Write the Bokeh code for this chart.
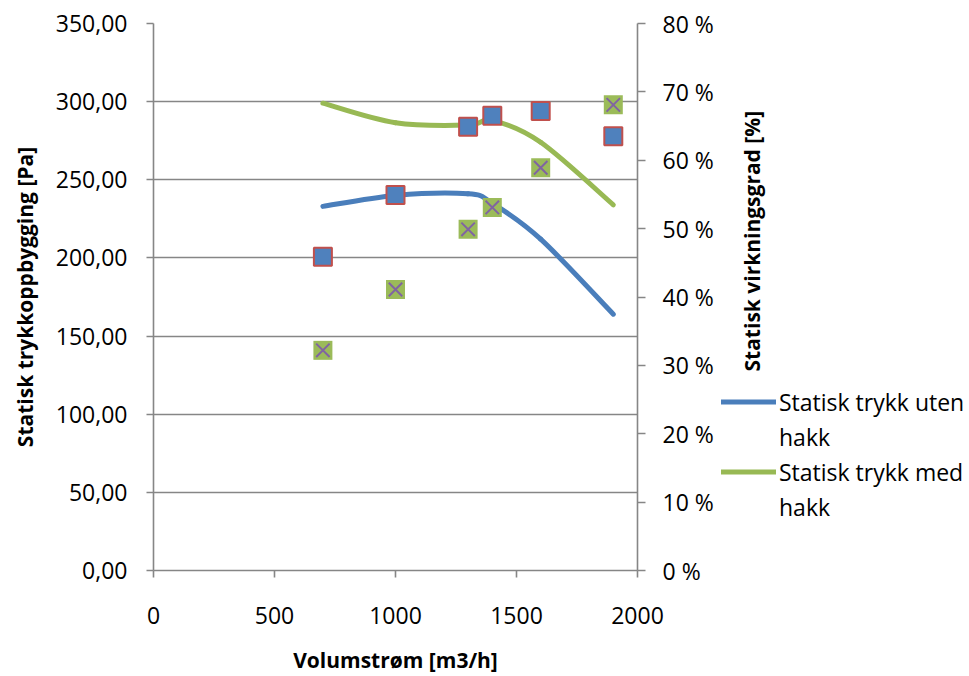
import numpy as np
from math import pi
from bokeh.plotting import figure
from bokeh.layouts import row
from bokeh.models import (Range1d, LinearAxis, CustomJSTickFormatter, FixedTicker,
                          Legend, LegendItem, Label)
from bokeh.embed import file_html
from bokeh.resources import INLINE

# ---- data ----
flow = [700, 1000, 1300, 1400, 1600, 1900]
trykk_uten = [233, 240, 241, 235, 212, 164]
trykk_med = [299, 286.5, 285, 288, 274, 234]
virk_uten = [45.9, 54.9, 64.9, 66.5, 67.2, 63.5]
virk_med = [32.2, 41.1, 49.9, 53.1, 58.9, 68.1]
x_ticks = [0, 500, 1000, 1500, 2000]
left_ticks = [0, 50, 100, 150, 200, 250, 300, 350]
right_ticks = [0, 10, 20, 30, 40, 50, 60, 70, 80]
label_uten = ["Statisk trykk uten", "hakk"]
label_med = ["Statisk trykk med", "hakk"]
right_title = "Statisk virkningsgrad [%]"

BLUE = "#4A7EBB"
GREEN = "#98B954"
FONT = "Open Sans"
AX = "#868686"


def smooth(xs, ys):
    x = np.asarray(xs, float)
    y = np.asarray(ys, float)
    n = len(x)
    xp = np.concatenate([[x[0]], x, [x[-1]]])
    yp = np.concatenate([[y[0]], y, [y[-1]]])
    return dict(
        x0=x[:-1], y0=y[:-1], x1=x[1:], y1=y[1:],
        cx0=x[:-1] + (xp[2:n + 1] - xp[0:n - 1]) / 6.0,
        cy0=y[:-1] + (yp[2:n + 1] - yp[0:n - 1]) / 6.0,
        cx1=x[1:] - (xp[3:n + 2] - xp[1:n]) / 6.0,
        cy1=y[1:] - (yp[3:n + 2] - yp[1:n]) / 6.0,
    )


MAIN_W = 716
p = figure(width=MAIN_W, height=676, output_backend="svg", toolbar_location=None,
           x_range=Range1d(0, 2000), y_range=Range1d(0, 350),
           min_border_left=153, min_border_right=MAIN_W - 637, min_border_top=23,
           min_border_bottom=106)
p.outline_line_color = None
p.background_fill_color = "white"
p.border_fill_color = "white"
p.xgrid.visible = False
p.ygrid.ticker = FixedTicker(ticks=left_ticks)
p.ygrid.grid_line_color = AX
p.ygrid.grid_line_width = 1.6

p.extra_y_ranges = {"pct": Range1d(0, 80)}

# axes
xa = p.xaxis[0]
xa.ticker = FixedTicker(ticks=x_ticks)
xa.axis_label = "Volumstrøm [m3/h]"
ya = p.yaxis[0]
ya.ticker = FixedTicker(ticks=left_ticks)
ya.formatter = CustomJSTickFormatter(code="return tick.toFixed(2).replace('.', ',');")
ya.axis_label = "Statisk trykkoppbygging [Pa]"

ra = LinearAxis(y_range_name="pct", ticker=FixedTicker(ticks=right_ticks),
                formatter=CustomJSTickFormatter(code="return tick.toFixed(0) + ' %';"))
p.add_layout(ra, "right")

for ax in (xa, ya, ra):
    ax.axis_line_color = AX
    ax.axis_line_width = 1.6
    ax.major_tick_line_color = AX
    ax.major_tick_line_width = 1.6
    ax.major_tick_in = 0
    ax.major_tick_out = 7
    ax.minor_tick_line_color = None
    ax.major_label_text_font = FONT
    ax.major_label_text_font_size = "23px"
    ax.major_label_text_color = "black"
    ax.axis_label_text_font = FONT
    ax.axis_label_text_font_size = "21px"
    ax.axis_label_text_font_style = "bold"
    ax.axis_label_text_color = "black"

xa.major_label_standoff = 29
xa.axis_label_standoff = 19
ya.major_label_standoff = 19
ya.axis_label_standoff = 14
ra.major_tick_out = 8
ra.major_label_standoff = 17

# lines (smoothed through data points)
r_uten = p.bezier(line_color=BLUE, line_width=5, line_cap="round", **smooth(flow, trykk_uten))
r_med = p.bezier(line_color=GREEN, line_width=5, line_cap="round", **smooth(flow, trykk_med))

# markers on the right axis
p.scatter(flow, virk_uten, y_range_name="pct", marker="square", size=18,
          fill_color="#4F81BD", line_color="#C0504D", line_width=2)
p.scatter(flow, virk_med, y_range_name="pct", marker="square", size=19,
          fill_color="#9BBB59", line_color=None)
p.scatter(flow, virk_med, y_range_name="pct", marker="x", size=19,
          line_color="#8064A2", line_width=2)

# ---- side panel: right-axis title and legend ----
SIDE_W = 969 - MAIN_W
s = figure(width=SIDE_W, height=676, output_backend="svg", toolbar_location=None,
           x_range=Range1d(0, SIDE_W), y_range=Range1d(0, 676),
           min_border=0, x_axis_type=None, y_axis_type=None)
s.outline_line_color = None
s.grid.visible = False
s.background_fill_color = "white"
s.border_fill_color = "white"

s.add_layout(Label(x=751 - MAIN_W, y=676 - 269, text=right_title, angle=pi / 2,
                   text_align="center", text_baseline="middle", text_font=FONT,
                   text_font_size="21px", text_font_style="bold", text_color="black"))

# legend proxies (same data, outside this panel's ranges)
l_uten = s.line(flow, trykk_uten, line_color=BLUE, line_width=5, line_cap="round")
l_med = s.line(flow, trykk_med, line_color=GREEN, line_width=5, line_cap="round")
l_none = s.line(flow, trykk_uten, line_alpha=0)

legend = Legend(items=[LegendItem(label=label_uten[0], renderers=[l_uten]),
                       LegendItem(label=label_uten[1], renderers=[l_none]),
                       LegendItem(label=label_med[0], renderers=[l_med]),
                       LegendItem(label=label_med[1], renderers=[l_none])],
                location=(721 - MAIN_W, 46))
legend.padding = 0
legend.margin = 0
legend.spacing = 0
legend.border_line_alpha = 0
legend.background_fill_alpha = 0
legend.glyph_width = 55
legend.glyph_height = 35
legend.label_standoff = 3
legend.label_height = 35
legend.label_text_font = FONT
legend.label_text_font_size = "23px"
legend.label_text_color = "black"
s.add_layout(legend)

layout = row(p, s, spacing=0)
open("out.html", "w").write(file_html(layout, INLINE))
